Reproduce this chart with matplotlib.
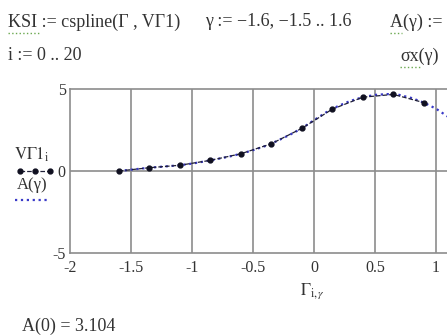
import numpy as np
import matplotlib.pyplot as plt
from matplotlib.lines import Line2D

plt.rcParams['font.family'] = ['Liberation Serif', 'DejaVu Serif']

# spline nodes Gamma_i, VGamma1_i (visible part)
gam_i = [-1.6, -1.35, -1.1, -0.85, -0.6, -0.35, -0.1, 0.15, 0.4, 0.65, 0.9]
vg1_i = [0.0, 0.2, 0.35, 0.65, 1.05, 1.66, 2.6, 3.77, 4.5, 4.67, 4.17]

# A(gamma) on gamma := -1.6, -1.5 .. 1.6 (visible part)
gam = [-1.6, -1.5, -1.4, -1.3, -1.2, -1.1, -1.0, -0.9, -0.8, -0.7, -0.6,
       -0.5, -0.4, -0.3, -0.2, -0.1, 0.0, 0.1, 0.2, 0.3, 0.4, 0.5, 0.6,
       0.7, 0.8, 0.9, 1.0, 1.1, 1.2]
a_gam = [0.0, 0.08, 0.16, 0.23, 0.29, 0.35, 0.45, 0.58, 0.72, 0.87, 1.05,
         1.27, 1.52, 1.84, 2.2, 2.6, 3.1, 3.58, 3.97, 4.28, 4.5, 4.64, 4.69,
         4.64, 4.45, 4.17, 3.8, 3.3, 2.7]

grid_x = [-1.5, -1, -0.5, 0, 0.5, 1, 1.5]
xticks = [-2, -1.5, -1, -0.5, 0, 0.5, 1]
xticklabels = ['-2', '-1.5', '-1', '-0.5', '0', '0.5', '1']
yticks = [-5, 0, 5]
yticklabels = ['-5', '0', '5']

W, H = 447, 336
fig = plt.figure(figsize=(W/100, H/100), dpi=100)
fig.patch.set_facecolor('white')

# plot box runs past the right edge (x=2 is off the picture)
ax = fig.add_axes([70/W, 1-253/H, 488/W, 164/H])
ax.set_xlim(-2, 2)
ax.set_ylim(-5, 5)
grid_c = '#8c8c8c'
for x in grid_x:
    ax.axvline(x, color=grid_c, lw=1.2, zorder=1)
ax.axhline(0, color=grid_c, lw=1.2, zorder=1)
for s in ax.spines.values():
    s.set_color(grid_c)
    s.set_linewidth(1.2)

ax.plot(gam, a_gam, ':', color='#3a3ac8', lw=1.6, zorder=2)
ax.plot(gam_i, vg1_i, '--', color='#202038', lw=0.9, marker='o', ms=3.5,
        mfc='#101020', mec='#101020', zorder=3)

ax.set_xticks(xticks)
ax.set_xticklabels(xticklabels)
ax.set_yticks(yticks)
ax.set_yticklabels(yticklabels)
ax.tick_params(length=0, labelsize=11.5, colors='#333333')
ax.tick_params(axis='x', pad=5)
ax.tick_params(axis='y', pad=3)

tc = '#333333'

# x label
fig.text(312/W, 1-291/H, r'$\Gamma_{\mathrm{i},\gamma}$', ha='center', va='center',
         fontsize=12, color=tc, math_fontfamily='stix')

# legend on the left
fig.text(32/W, 1-155/H, r'$\mathrm{V\Gamma1_i}$', ha='center', va='center',
         fontsize=12, color=tc, math_fontfamily='stix')
fig.add_artist(Line2D([20/W, 35/W, 50/W], [1-171/H]*3, ls='--', color='#202038',
                      lw=0.9, marker='o', ms=3.5, mfc='#101020', mec='#101020',
                      transform=fig.transFigure))
fig.text(32/W, 1-185/H, 'A(γ)', ha='center', va='center',
         fontsize=12, color=tc)
fig.add_artist(Line2D([15/W, 50/W], [1-200/H, 1-200/H], ls=':', color='#3a3ac8',
                      lw=1.6, transform=fig.transFigure))

# worksheet text around the plot
fig.text(8/W, 1-22/H, 'KSI := cspline(Γ , VΓ1)', va='center', fontsize=13, color=tc)
fig.text(205/W, 1-22/H, 'γ := −1.6, −1.5 .. 1.6', va='center', fontsize=13, color=tc)
fig.text(390/W, 1-22/H, 'A(γ) :=', va='center', fontsize=13, color=tc)
fig.text(8/W, 1-56/H, 'i := 0 .. 20', va='center', fontsize=13, color=tc)
fig.text(400/W, 1-56/H, 'σx(γ)', va='center', fontsize=13, color=tc)
fig.text(22/W, 1-326/H, 'A(0) = 3.104', va='center', fontsize=13, color=tc)

# green underlines of defined names
for x0, x1, y in [(8, 40, 33), (390, 402, 33), (400, 420, 67)]:
    fig.add_artist(Line2D([x0/W, x1/W], [1-y/H, 1-y/H], ls=':', color='#6aa84f',
                          lw=1.0, transform=fig.transFigure))

fig.savefig('out.png', dpi=100)
